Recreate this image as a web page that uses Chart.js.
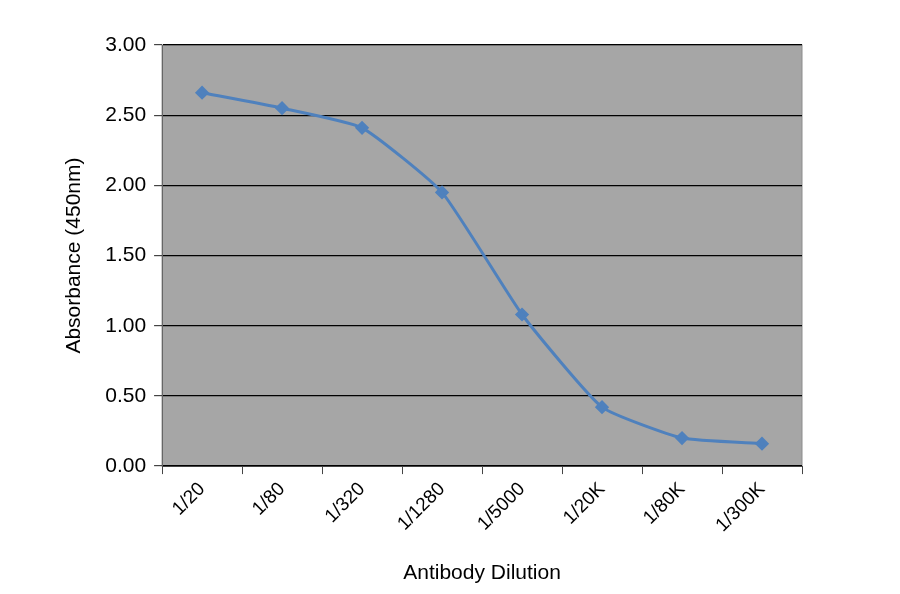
<!DOCTYPE html>
<html lang="en">
<head>
  <meta charset="UTF-8" />
  <title>Antibody Dilution</title>
  <script src="https://cdn.jsdelivr.net/npm/chart.js"></script>
  <style>
    html, body { margin: 0; background: #fff; }
    #wrap { width: 900px; height: 594px; }
  </style>
</head>
<body>
<div id="wrap"><canvas id="chart"></canvas></div>
<script>
  const dilutions = ['1/20', '1/80', '1/320', '1/1280', '1/5000', '1/20K', '1/80K', '1/300K'];
  const absorbance = [2.66, 2.55, 2.41, 1.95, 1.08, 0.42, 0.20, 0.16];

  // gray plot background like the Excel chart
  const plotBg = {
    id: 'plotBg',
    beforeDraw(chart) {
      const { ctx, chartArea: a } = chart;
      ctx.save();
      ctx.fillStyle = '#a6a6a6';
      ctx.fillRect(a.left, a.top, a.right - a.left, a.bottom - a.top);
      ctx.strokeStyle = '#8c8c8c';
      ctx.lineWidth = 1;
      ctx.strokeRect(a.left, a.top, a.right - a.left, a.bottom - a.top);
      ctx.restore();
    }
  };

  new Chart(document.getElementById('chart'), {
    type: 'line',
    data: {
      labels: dilutions,
      datasets: [{
        data: absorbance,
        borderColor: '#4f81bd',
        backgroundColor: '#4f81bd',
        borderWidth: 3,
        pointStyle: 'rectRot',
        pointRadius: 5,
        tension: 0.15,
        fill: false
      }]
    },
    options: {
      responsive: true,
      maintainAspectRatio: false,
      animation: false,
      layout: { padding: { top: 45, right: 98, left: 58, bottom: 4 } },
      plugins: { legend: { display: false }, tooltip: { enabled: false } },
      scales: {
        x: {
          offset: true,
          grid: { display: true, drawOnChartArea: false, offset: true, color: '#444', tickLength: 8 },
          border: { color: '#444', width: 1 },
          ticks: { color: '#000', font: { family: 'Arial, Liberation Sans', size: 19 }, maxRotation: 45, minRotation: 45, padding: 4 },
          title: { display: true, text: 'Antibody Dilution', color: '#000', font: { family: 'Arial, Liberation Sans', size: 21 }, padding: { top: 20, bottom: 4 } }
        },
        y: {
          min: 0, max: 3,
          ticks: { stepSize: 0.5, color: '#000', font: { family: 'Arial, Liberation Sans', size: 21 }, callback: v => v.toFixed(2), padding: 8 },
          grid: { color: '#000', lineWidth: 1.2, tickLength: 8, tickColor: '#444' },
          border: { color: '#666', width: 1 },
          title: { display: true, text: 'Absorbance (450nm)', color: '#000', font: { family: 'Arial, Liberation Sans', size: 21 }, padding: { bottom: 10 } }
        }
      }
    },
    plugins: [plotBg]
  });
</script>
</body>
</html>
